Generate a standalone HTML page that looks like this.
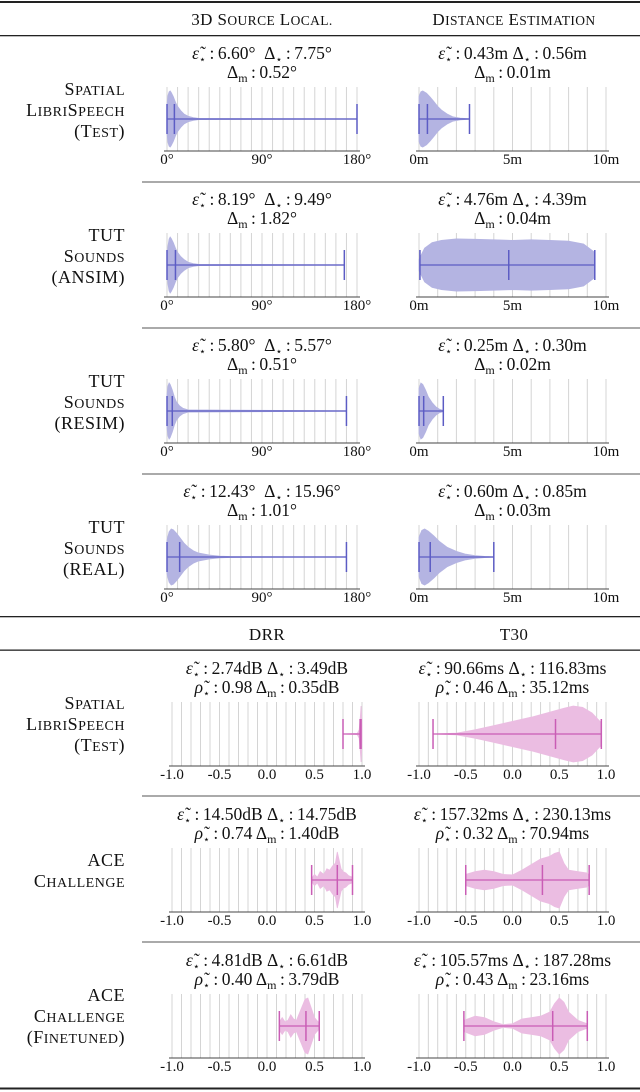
<!DOCTYPE html>
<html><head><meta charset="utf-8">
<style>
html,body{margin:0;padding:0;background:#fff;}
svg{display:block;font-family:"Liberation Serif",serif;}
</style></head>
<body>
<svg id="chart" width="640" height="1092" viewBox="0 0 640 1092" xmlns="http://www.w3.org/2000/svg">
<g id="rules">
<rect x="0" y="1" width="640" height="2" fill="#222"/>
<rect x="0" y="35" width="640" height="1.3" fill="#222"/>
<rect x="142" y="181.5" width="498" height="1" fill="#555"/>
<rect x="142" y="327.5" width="498" height="1" fill="#555"/>
<rect x="142" y="473.5" width="498" height="1" fill="#555"/>
<rect x="0" y="616" width="640" height="1.3" fill="#222"/>
<rect x="0" y="649.5" width="640" height="1.3" fill="#222"/>
<rect x="142" y="795.5" width="498" height="1" fill="#555"/>
<rect x="142" y="941.5" width="498" height="1" fill="#555"/>
<rect x="0" y="1087.5" width="640" height="2" fill="#222"/>
</g>
<g font-size="17" fill="#111" text-anchor="middle" letter-spacing="0.4">
<text x="262" y="25">3D S<tspan font-size="13.5">OURCE</tspan> L<tspan font-size="13.5">OCAL.</tspan></text>
<text x="514" y="25">D<tspan font-size="13.5">ISTANCE</tspan> E<tspan font-size="13.5">STIMATION</tspan></text>
<text x="267" y="640">DRR</text>
<text x="514" y="640">T30</text>
</g>
<g font-size="18" fill="#111" text-anchor="end" letter-spacing="0.5">
<g>
<text x="125" y="95">S<tspan font-size="14">PATIAL</tspan></text>
<text x="125" y="116">L<tspan font-size="14">IBRI</tspan>S<tspan font-size="14">PEECH</tspan></text>
<text x="125" y="137">(T<tspan font-size="14">EST</tspan>)</text></g>
<g>
<text x="125" y="241">TUT</text>
<text x="125" y="262">S<tspan font-size="14">OUNDS</tspan></text>
<text x="125" y="283">(ANSIM)</text></g>
<g>
<text x="125" y="387">TUT</text>
<text x="125" y="408">S<tspan font-size="14">OUNDS</tspan></text>
<text x="125" y="429">(RESIM)</text></g>
<g>
<text x="125" y="533">TUT</text>
<text x="125" y="554">S<tspan font-size="14">OUNDS</tspan></text>
<text x="125" y="575">(REAL)</text></g>
<g>
<text x="125" y="709">S<tspan font-size="14">PATIAL</tspan></text>
<text x="125" y="730">L<tspan font-size="14">IBRI</tspan>S<tspan font-size="14">PEECH</tspan></text>
<text x="125" y="751">(T<tspan font-size="14">EST</tspan>)</text></g>
<g>
<text x="125" y="866">ACE</text>
<text x="125" y="887">C<tspan font-size="14">HALLENGE</tspan></text></g>
<g>
<text x="125" y="1001">ACE</text>
<text x="125" y="1022">C<tspan font-size="14">HALLENGE</tspan></text>
<text x="125" y="1043">(F<tspan font-size="14">INETUNED</tspan>)</text></g>
</g>
<g id="plots"></g>
</svg>
<script>
// ---- data ----
const locTicks = ["0°","90°","180°"];
const distTicks = ["0m","5m","10m"];
const corrTicks = ["-1.0","-0.5","0.0","0.5","1.0"];

const loc1X=[0,1,2,3,4,6,8,10,13,16,20,25,30,180];
const loc1W=[0.5,0.85,0.97,1,0.95,0.8,0.6,0.45,0.3,0.18,0.1,0.05,0.02,0.01];
const loc1Stats=[0,7,180];
const dist1X=[0,0.1,0.2,0.4,0.6,0.8,1.0,1.2,1.5,1.8,2.2,2.7];
const dist1W=[0.8,0.97,1,0.92,0.78,0.62,0.45,0.32,0.18,0.08,0.03,0.01];
const dist1Stats=[0,0.45,2.7];
const loc2X=[0,1,2,3,4,6,8,10,13,16,20,25,30,168];
const loc2W=[0.3,0.7,0.93,1,0.95,0.8,0.6,0.45,0.3,0.2,0.1,0.05,0.02,0.01];
const loc2Stats=[0,8,168];
const dist2X=[0,0.3,0.7,1.2,2,3,4,5,6,7,8,8.8,9.4];
const dist2W=[0.2,0.6,0.8,0.88,0.93,0.92,0.9,0.88,0.9,0.88,0.85,0.75,0.45];
const dist2Stats=[0.05,4.8,9.4];
const loc3X=[0,1,2,3,5,7,9,12,15,20,170];
const loc3W=[0.6,0.9,1,0.95,0.75,0.5,0.32,0.18,0.1,0.04,0.01];
const loc3Stats=[0,5,170];
const dist3X=[0,0.1,0.2,0.35,0.5,0.7,0.9,1.1,1.3];
const dist3W=[0.8,1,0.95,0.75,0.5,0.3,0.15,0.06,0.02];
const dist3Stats=[0,0.25,1.3];
const loc4X=[0,2,4,6,9,12,16,20,25,30,40,50,60,170];
const loc4W=[0.6,0.9,1,0.97,0.85,0.7,0.5,0.35,0.22,0.14,0.07,0.03,0.015,0.01];
const loc4Stats=[0,12,170];
const dist4X=[0,0.15,0.3,0.5,0.8,1.1,1.5,2,2.5,3,3.5,4];
const dist4W=[0.7,0.95,1,0.92,0.75,0.55,0.35,0.2,0.1,0.05,0.02,0.01];
const dist4Stats=[0,0.6,4.0];
const drr1X=[0.8,0.95,0.97,0.98,0.99,1.0];
const drr1W=[0,0.02,0.15,0.5,1,0.3];
const drr1Stats=[0.8,0.98,0.99];
const t301X=[-0.85,-0.6,-0.4,-0.2,0,0.2,0.4,0.55,0.65,0.75,0.85,0.95];
const t301W=[0,0.03,0.15,0.3,0.45,0.6,0.78,0.92,1,0.95,0.75,0.4];
const t301Stats=[-0.85,0.46,0.95];
const drr2X=[0.47,0.5,0.53,0.56,0.6,0.63,0.66,0.69,0.72,0.74,0.76,0.78,0.8,0.83,0.86,0.9];
const drr2W=[0.05,0.2,0.1,0.3,0.2,0.4,0.35,0.5,0.6,1,0.7,0.4,0.3,0.25,0.15,0.1];
const drr2Stats=[0.47,0.74,0.9];
const t302X=[-0.5,-0.4,-0.3,-0.2,-0.1,0,0.1,0.2,0.3,0.4,0.45,0.5,0.55,0.6,0.7,0.8,0.82];
const t302W=[0.2,0.3,0.35,0.3,0.2,0.18,0.35,0.55,0.75,0.85,0.95,1,0.6,0.35,0.3,0.25,0.15];
const t302Stats=[-0.5,0.32,0.82];
const drr3X=[0.13,0.16,0.19,0.22,0.25,0.28,0.31,0.34,0.37,0.4,0.43,0.46,0.5,0.55];
const drr3W=[0.15,0.3,0.15,0.2,0.4,0.25,0.2,0.45,0.7,0.95,1,0.7,0.3,0.1];
const drr3Stats=[0.13,0.41,0.55];
const t303X=[-0.52,-0.4,-0.3,-0.2,-0.1,0,0.1,0.2,0.3,0.4,0.45,0.5,0.55,0.6,0.7,0.8];
const t303W=[0.2,0.35,0.3,0.15,0.05,0.08,0.25,0.3,0.35,0.5,0.8,1,0.85,0.5,0.2,0.08];
const t303Stats=[-0.52,0.43,0.8];

// ---- drawing ----
const NS="http://www.w3.org/2000/svg";
const root=document.getElementById('plots');
function mk(tag,attrs,parent){const e=document.createElementNS(NS,tag);for(const k in attrs)e.setAttribute(k,attrs[k]);parent.appendChild(e);return e;}

const BLUE={fill:"#b4b4e2",line:"#5c5cc4"};
const PINK={fill:"#ebbde2",line:"#c95db5"};

function panel(name,S,x0,x1,dmin,dmax,nGrid,tickVals,tickLabels,X,W,stats,col,text1,text2){
  const g=mk('g',{},root);
  
  
  const sx=v=>x0+(v-dmin)/(dmax-dmin)*(x1-x0);
  const cy=S+83, axY=S+115, top=S+51, H=28;
  for(let i=0;i<=nGrid;i++){
    const v=dmin+(dmax-dmin)*i/nGrid;
    const gl=mk('line',{x1:sx(v),x2:sx(v),y1:top,y2:axY,stroke:"#d4d4d4","stroke-width":1},g);
    
    
  }
  const ax=mk('line',{x1:x0-3,x2:x1+3,y1:axY,y2:axY,stroke:"#444","stroke-width":1},g);
  
  
  tickVals.forEach((v,i)=>{
    const t=mk('text',{x:sx(v),y:S+128,"font-size":15,"text-anchor":"middle",fill:"#111"},g);
    t.textContent=tickLabels[i];
    
    
  });
  let pts=[];
  for(let i=0;i<X.length;i++)pts.push(sx(X[i])+","+(cy-W[i]*H));
  for(let i=X.length-1;i>=0;i--)pts.push(sx(X[i])+","+(cy+W[i]*H));
  const vp=mk('polygon',{points:pts.join(" "),fill:col.fill,stroke:col.fill,"stroke-width":0.8},g);
  
  
  const wl=mk('line',{x1:sx(stats[0]),x2:sx(stats[2]),y1:cy,y2:cy,stroke:col.line,"stroke-width":1.3},g);
  
  
  stats.forEach((v,i)=>{
    const c=mk('line',{x1:sx(v),x2:sx(v),y1:cy-15,y2:cy+15,stroke:col.line,"stroke-width":1.5},g);
    
    
  });
  const cx=(x0+x1)/2;
  const t1=mk('text',{x:cx,y:S+23,"font-size":17.5,"text-anchor":"middle",fill:"#111"},g);
  t1.innerHTML=text1;
  
  
  const t2=mk('text',{x:cx,y:S+42,"font-size":17.5,"text-anchor":"middle",fill:"#111"},g);
  t2.innerHTML=text2;
  
  
}
const eps='<tspan font-style="italic">ε̃</tspan><tspan font-size="11" dy="4">⋆</tspan><tspan dy="-4">\u2009:\u2009</tspan>';
const del='Δ<tspan font-size="11" dy="4">⋆</tspan><tspan dy="-4">\u2009:\u2009</tspan>';
const dm='Δ<tspan font-size="12" dy="4">m</tspan><tspan dy="-4">\u2009:\u2009</tspan>';
const rho='<tspan font-style="italic">ρ̃</tspan><tspan font-size="11" dy="4">⋆</tspan><tspan dy="-4">\u2009:\u2009</tspan>';
const SP='\u2002';

const L=[167,357], D=[419,606], R=[172,362], T=[419,606];
panel('loc-spatial-librispeech',36,L[0],L[1],0,180,18,[0,90,180],locTicks,loc1X,loc1W,loc1Stats,BLUE,eps+'6.60°'+SP+del+'7.75°',dm+'0.52°');
panel('dist-spatial-librispeech',36,D[0],D[1],0,10,10,[0,5,10],distTicks,dist1X,dist1W,dist1Stats,BLUE,eps+'0.43m '+del+'0.56m',dm+'0.01m');
panel('loc-tut-ansim',182,L[0],L[1],0,180,18,[0,90,180],locTicks,loc2X,loc2W,loc2Stats,BLUE,eps+'8.19°'+SP+del+'9.49°',dm+'1.82°');
panel('dist-tut-ansim',182,D[0],D[1],0,10,10,[0,5,10],distTicks,dist2X,dist2W,dist2Stats,BLUE,eps+'4.76m '+del+'4.39m',dm+'0.04m');
panel('loc-tut-resim',328,L[0],L[1],0,180,18,[0,90,180],locTicks,loc3X,loc3W,loc3Stats,BLUE,eps+'5.80°'+SP+del+'5.57°',dm+'0.51°');
panel('dist-tut-resim',328,D[0],D[1],0,10,10,[0,5,10],distTicks,dist3X,dist3W,dist3Stats,BLUE,eps+'0.25m '+del+'0.30m',dm+'0.02m');
panel('loc-tut-real',474,L[0],L[1],0,180,18,[0,90,180],locTicks,loc4X,loc4W,loc4Stats,BLUE,eps+'12.43°'+SP+del+'15.96°',dm+'1.01°');
panel('dist-tut-real',474,D[0],D[1],0,10,10,[0,5,10],distTicks,dist4X,dist4W,dist4Stats,BLUE,eps+'0.60m '+del+'0.85m',dm+'0.03m');
panel('drr-spatial-librispeech',651,R[0],R[1],-1,1,20,[-1,-0.5,0,0.5,1],corrTicks,drr1X,drr1W,drr1Stats,PINK,eps+'2.74dB '+del+'3.49dB',rho+'0.98 '+dm+'0.35dB');
panel('t30-spatial-librispeech',651,T[0],T[1],-1,1,20,[-1,-0.5,0,0.5,1],corrTicks,t301X,t301W,t301Stats,PINK,eps+'90.66ms '+del+'116.83ms',rho+'0.46 '+dm+'35.12ms');
panel('drr-ace-challenge',797,R[0],R[1],-1,1,20,[-1,-0.5,0,0.5,1],corrTicks,drr2X,drr2W,drr2Stats,PINK,eps+'14.50dB '+del+'14.75dB',rho+'0.74 '+dm+'1.40dB');
panel('t30-ace-challenge',797,T[0],T[1],-1,1,20,[-1,-0.5,0,0.5,1],corrTicks,t302X,t302W,t302Stats,PINK,eps+'157.32ms '+del+'230.13ms',rho+'0.32 '+dm+'70.94ms');
panel('drr-ace-finetuned',943,R[0],R[1],-1,1,20,[-1,-0.5,0,0.5,1],corrTicks,drr3X,drr3W,drr3Stats,PINK,eps+'4.81dB '+del+'6.61dB',rho+'0.40 '+dm+'3.79dB');
panel('t30-ace-finetuned',943,T[0],T[1],-1,1,20,[-1,-0.5,0,0.5,1],corrTicks,t303X,t303W,t303Stats,PINK,eps+'105.57ms '+del+'187.28ms',rho+'0.43 '+dm+'23.16ms');
</script>
</body></html>
